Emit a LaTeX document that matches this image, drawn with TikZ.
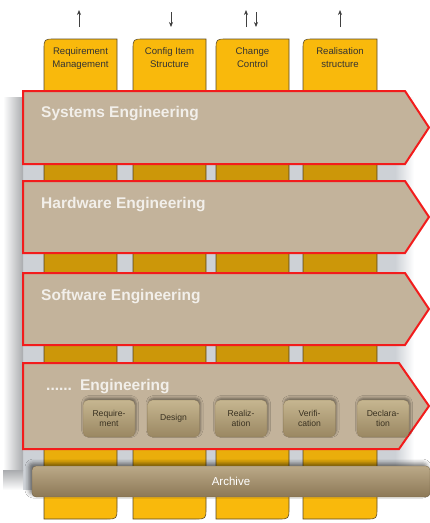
\documentclass[tikz,border=0pt]{standalone}
\usepackage{fontspec}
\setmainfont{Liberation Sans}
\usetikzlibrary{shadows.blur,arrows.meta}
\definecolor{colc}{HTML}{F9B90C}
\definecolor{coledge}{HTML}{5A4A2A}
\definecolor{bandc}{HTML}{C3B39B}
\definecolor{redc}{HTML}{F21C1C}
\definecolor{boxtop}{HTML}{C6B690}
\definecolor{boxbot}{HTML}{9A8762}
\definecolor{boxtxt}{HTML}{3A3222}
\definecolor{archtop}{HTML}{BBA988}
\definecolor{archbot}{HTML}{8C7856}
\definecolor{bandtxt}{HTML}{F2EFEA}
\definecolor{shadowc}{HTML}{CDD1D6}
\definecolor{shadowdark}{HTML}{A9ABAE}
\tikzset{
  colshape/.style={fill=colc,draw=coledge,line width=0.6pt},
  bandshape/.style={fill=bandc,draw=redc,line width=2pt,line join=miter},
  bandlabel/.style={anchor=base west,inner sep=0pt,text=bandtxt,font=\fontsize{15.5}{18}\selectfont\bfseries},
  collabel/.style={anchor=base,inner sep=0pt,align=center,text=black!80,font=\fontsize{9.6}{13}\selectfont},
  stagebox/.style={minimum width=52pt,minimum height=37pt,inner sep=0pt,rounded corners=5pt,
    top color=boxtop,bottom color=boxbot,draw=boxbot!90!black,line width=0.2pt,
    align=center,text=boxtxt,font=\fontsize{8.6}{10.5}\selectfont,
    blur shadow={shadow xshift=1pt,shadow yshift=2pt,shadow blur radius=2.5pt,shadow opacity=45}},
  archbox/.style={minimum width=398pt,minimum height=31pt,inner sep=0pt,rounded corners=4pt,
    top color=archtop,bottom color=archbot,draw=archbot!80!black,line width=0.3pt,
    text=white,font=\fontsize{11.5}{13}\selectfont,
    blur shadow={shadow xshift=-3pt,shadow yshift=3pt,shadow blur radius=4pt,shadow opacity=50}},
  flowarrow/.style={-{Stealth[length=5pt,width=4pt]},draw=black!75,line width=0.7pt}
}
\begin{document}
\begin{tikzpicture}[x=1pt,y=-1pt]
\useasboundingbox[fill=white] (0,0) rectangle (430,523);
% background shadow of the bands
\fill[shadowc] (22,97) rectangle (395,490);
\shade[left color=white,right color=shadowdark] (3,97) rectangle (23,470);
\shade[top color=shadowdark,bottom color=white] (3,470) rectangle (23,490);
\shade[left color=shadowc,right color=white] (395,97) rectangle (414,490);
% columns
\foreach \L/\R/\n in {44/117/1,133/206/2,216/289/3,303/377/4}{
  \draw[colshape] (\L,519) -- (\L,50) .. controls (\L,39) .. (\L+11,39) -- (\R,39) -- (\R,508) .. controls (\R,519) .. (\R-11,519) -- cycle;
  \coordinate (col\n) at ({(\L+\R)/2},39);
}
% darkened gaps between bands
\foreach \L/\R in {44/117,133/206,216/289,303/377}{
  \fill[black,opacity=0.18] (\L,164) rectangle (\R,181);
  \fill[black,opacity=0.18] (\L,253) rectangle (\R,273);
  \fill[black,opacity=0.18] (\L,345) rectangle (\R,363);
  \fill[black,opacity=0.06] (\L,449) rectangle (\R,466);
}
% column labels
\node[collabel] (cl1) at (80.5,67) {Requirement\\Management};
\node[collabel] (cl2) at (169.5,67) {Config Item\\Structure};
\node[collabel] (cl3) at (252.5,67) {Change\\Control};
\node[collabel] (cl4) at (340,67) {Realisation\\structure};
% arrows above columns
\coordinate (a1s) at (79,27); \coordinate (a1e) at (79,10);
\coordinate (a2s) at (171,12); \coordinate (a2e) at (171,27);
\coordinate (a3s) at (246,27); \coordinate (a3e) at (246,10);
\coordinate (a4s) at (256,12); \coordinate (a4e) at (256,27);
\coordinate (a5s) at (340,27); \coordinate (a5e) at (340,10);
\draw[flowarrow] (a1s) -- (a1e);
\draw[flowarrow] (a2s) -- (a2e);
\draw[flowarrow] (a3s) -- (a3e);
\draw[flowarrow] (a4s) -- (a4e);
\draw[flowarrow] (a5s) -- (a5e);
% bands
\draw[bandshape] (23,91) -- (405,91) -- (429,127.5) -- (405,164) -- (23,164) -- cycle;
\draw[bandshape] (23,181) -- (405,181) -- (429,217) -- (405,253) -- (23,253) -- cycle;
\draw[bandshape] (23,273) -- (405,273) -- (429,309) -- (405,345) -- (23,345) -- cycle;
\draw[bandshape] (23,363) -- (399,363) -- (429,406) -- (399,449) -- (23,449) -- cycle;
\node[bandlabel] (b1) at (41,117.5) {Systems Engineering};
\node[bandlabel] (b2) at (41,208) {Hardware Engineering};
\node[bandlabel] (b3) at (41,300) {Software Engineering};
\node[bandlabel] (b4) at (46,390) {......\hspace{8pt}Engineering};
% stages
\node[stagebox] (s1) at (109,418.5) {Require-\\ment};
\node[stagebox] (s2) at (173.5,418.5) {Design};
\node[stagebox] (s3) at (241,418.5) {Realiz-\\ation};
\node[stagebox] (s4) at (309.5,418.5) {Verifi-\\cation};
\node[stagebox] (s5) at (383,418.5) {Declara-\\tion};
% archive
\node[archbox] (arch) at (231,481.5) {Archive};
\end{tikzpicture}
\end{document}
